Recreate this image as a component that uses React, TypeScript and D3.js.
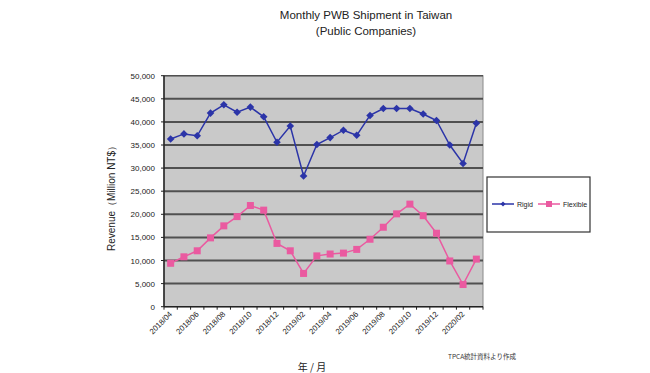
import React from "react";
import * as d3 from "d3";

const months = [
  "2018/04","2018/05","2018/06","2018/07","2018/08","2018/09","2018/10","2018/11","2018/12",
  "2019/01","2019/02","2019/03","2019/04","2019/05","2019/06","2019/07","2019/08","2019/09",
  "2019/10","2019/11","2019/12","2020/01","2020/02","2020/03",
];
const rigid = [
  36300, 37400, 37000, 41900, 43700, 42100, 43200, 41100, 35600, 39100, 28300, 35100,
  36600, 38200, 37100, 41400, 42900, 42900, 42900, 41700, 40300, 35000, 31000, 39700,
];
const flexible = [
  9400, 10800, 12100, 14900, 17500, 19500, 21900, 20900, 13700, 12100, 7200, 11000,
  11400, 11600, 12400, 14600, 17200, 20100, 22200, 19700, 15900, 9900, 4800, 10300,
];
const yTicks = [0, 5000, 10000, 15000, 20000, 25000, 30000, 35000, 40000, 45000, 50000];
const labelMonths = ["2018/04","2018/06","2018/08","2018/10","2018/12","2019/02","2019/04","2019/06","2019/08","2019/10","2019/12","2020/02"];
const seriesNames = ["Rigid", "Flexible"];

const W = 650, H = 373;
const L = 164, R = 483, T = 75.7, B = 306.7;
const BLUE = "#2b34a8";
const PINK = "#ea5aa0";
const FONT = "'Liberation Sans', Arial, sans-serif";
const JFONT = "'Noto Sans CJK JP', sans-serif";

export default function App() {
  const x = d3.scaleBand<string>().domain(months).range([L, R]);
  const cx = (m: string) => (x(m) as number) + x.bandwidth() / 2;
  const y = d3.scaleLinear().domain([0, 50000]).range([B, T]);
  const line = d3.line<number>().x((_, i) => cx(months[i])).y((d) => y(d));
  const fmt = d3.format(",");
  const diamond = "M0,-3.8L3.8,0L0,3.8L-3.8,0Z";

  return (
    <svg width={W} height={H} style={{ position: "absolute", left: 0, top: 0, background: "#fff" }}>
      <text x={366} y={19} textAnchor="middle" fontFamily={FONT} fontSize={11.5} fill="#222">Monthly PWB Shipment in Taiwan</text>
      <text x={366} y={35} textAnchor="middle" fontFamily={FONT} fontSize={11.5} fill="#222">(Public Companies)</text>

      <rect x={L} y={T} width={R - L} height={B - T} fill="#c9c9c9" stroke="#8a8a8a" strokeWidth={1} />
      {yTicks.slice(1).map((t) => (
        <line key={t} x1={L} x2={R} y1={y(t)} y2={y(t)} stroke="#505050" strokeWidth={t === 50000 ? 1.5 : 2} />
      ))}
      {yTicks.map((t) => (
        <g key={"yl" + t}>
          <line x1={L - 3} x2={L} y1={y(t)} y2={y(t)} stroke="#222" strokeWidth={1} />
          <text x={L - 9} y={y(t) + 3} textAnchor="end" fontFamily={FONT} fontSize={8} fill="#222">{fmt(t)}</text>
        </g>
      ))}
      <line x1={L} x2={L} y1={T} y2={B} stroke="#222" strokeWidth={1.5} />
      <line x1={L} x2={R} y1={B} y2={B} stroke="#222" strokeWidth={1.5} />
      {months.map((m) => (
        <line key={"xt" + m} x1={x(m) as number} x2={x(m) as number} y1={B} y2={B + 3} stroke="#222" strokeWidth={1} />
      ))}
      <line x1={R} x2={R} y1={B} y2={B + 3} stroke="#222" strokeWidth={1} />
      {labelMonths.map((m) => (
        <text key={"xl" + m} transform={`translate(${cx(m) + 2},${B + 8}) rotate(-45)`} textAnchor="end" fontFamily={FONT} fontSize={7.8} fill="#222">{m}</text>
      ))}

      <path d={line(rigid) || ""} fill="none" stroke={BLUE} strokeWidth={1.5} />
      {rigid.map((v, i) => (
        <path key={"r" + i} d={diamond} transform={`translate(${cx(months[i])},${y(v)})`} fill={BLUE} />
      ))}
      <path d={line(flexible) || ""} fill="none" stroke={PINK} strokeWidth={1.5} />
      {flexible.map((v, i) => (
        <rect key={"f" + i} x={cx(months[i]) - 3.5} y={y(v) - 3.5} width={7} height={7} fill={PINK} />
      ))}

      <text transform={`translate(115,196) rotate(-90)`} textAnchor="middle" fontFamily={FONT} fontSize={10} fill="#222">Revenue（Million NT$）</text>

      <rect x={487} y={177} width={103} height={55} fill="#fff" stroke="#333" strokeWidth={1.2} />
      <line x1={492} x2={514} y1={204} y2={204} stroke={BLUE} strokeWidth={1.5} />
      <path d="M0,-2.5L2.5,0L0,2.5L-2.5,0Z" transform="translate(503,204)" fill={BLUE} />
      <text x={517} y={207} fontFamily={FONT} fontSize={7} fill="#222">{seriesNames[0]}</text>
      <line x1={538} x2={560} y1={204} y2={204} stroke={PINK} strokeWidth={1.5} />
      <rect x={546} y={201} width={6} height={6} fill={PINK} />
      <text x={563} y={207} fontFamily={FONT} fontSize={7} fill="#222">{seriesNames[1]}</text>

      <text x={448} y={359} fontFamily={JFONT} fontSize={6.5} fill="#333">TPCA統計資料より作成</text>
      <text x={312} y={371} textAnchor="middle" fontFamily={JFONT} fontSize={10} fill="#222">年 / 月</text>
    </svg>
  );
}
